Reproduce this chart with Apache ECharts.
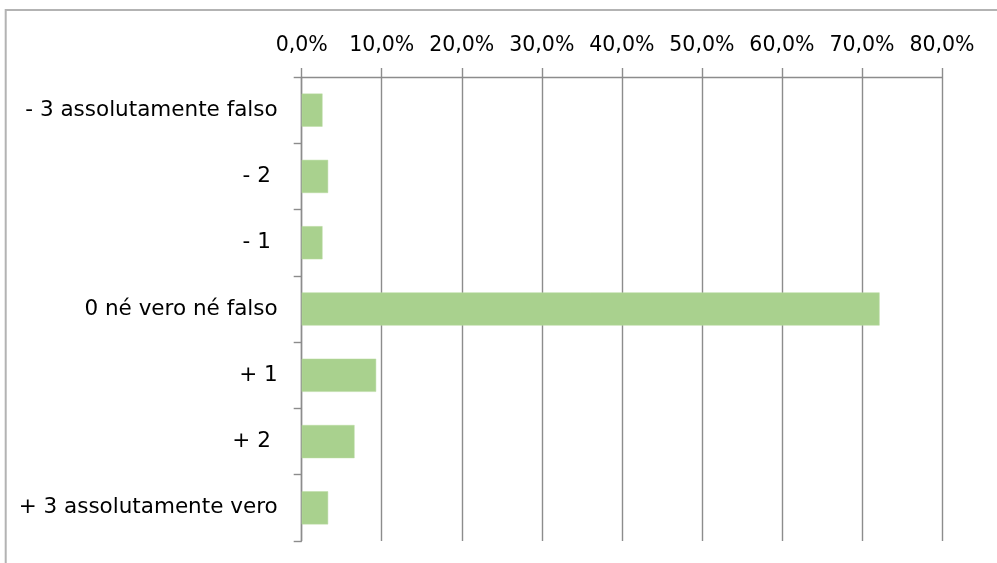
<!DOCTYPE html>
<html>
<head>
<meta charset="utf-8">
<script src="https://cdn.jsdelivr.net/npm/echarts@6/dist/echarts.min.js"></script>
<style>
html,body{margin:0;padding:0;background:#fff;}
#chart{width:997px;height:563px;}
</style>
</head>
<body>
<div id="chart"></div>
<script>
const categories = ['- 3 assolutamente falso', '- 2 ', '- 1 ', '0 né vero né falso', '+ 1', '+ 2 ', '+ 3 assolutamente vero'];
const values = [2.6, 3.3, 2.6, 72.2, 9.3, 6.6, 3.3];
const axisMin = 0;
const axisMax = 80;
const axisStep = 10;

const chart = echarts.init(document.getElementById('chart'), null, {renderer: 'canvas'});
const fontFamily = '"DejaVu Sans", sans-serif';
const lineColor = '#8c8c8c';
const lineW = 1.4;

chart.setOption({
  animation: false,
  backgroundColor: '#ffffff',
  graphic: [{
    type: 'rect',
    shape: {x: 5.7, y: 10, width: 1100, height: 700},
    style: {fill: 'none', stroke: '#b3b3b3', lineWidth: 2},
    silent: true,
    z: -10
  }],
  grid: {left: 301.7, right: 55, top: 77, bottom: 22, containLabel: false},
  xAxis: {
    type: 'value',
    position: 'top',
    min: axisMin,
    max: axisMax,
    interval: axisStep,
    axisLine: {show: true, lineStyle: {color: lineColor, width: lineW}},
    axisTick: {show: true, length: 9, lineStyle: {color: lineColor, width: lineW}},
    splitLine: {show: true, lineStyle: {color: lineColor, width: lineW}},
    axisLabel: {
      margin: 21,
      color: '#000',
      fontFamily: fontFamily,
      fontSize: 20.5,
      formatter: v => v.toFixed(1).replace('.', ',') + '%'
    }
  },
  yAxis: {
    type: 'category',
    inverse: true,
    data: categories,
    axisLine: {show: true, lineStyle: {color: lineColor, width: lineW}},
    axisTick: {show: true, length: 8, lineStyle: {color: lineColor, width: lineW}},
    axisLabel: {
      margin: 24,
      color: '#000',
      fontFamily: fontFamily,
      fontSize: 21.5
    }
  },
  series: [{
    type: 'bar',
    data: values,
    barCategoryGap: '50%',
    itemStyle: {color: '#a9d18e', borderColor: '#b8dba0', borderWidth: 0.5}
  }]
});
</script>
</body>
</html>
